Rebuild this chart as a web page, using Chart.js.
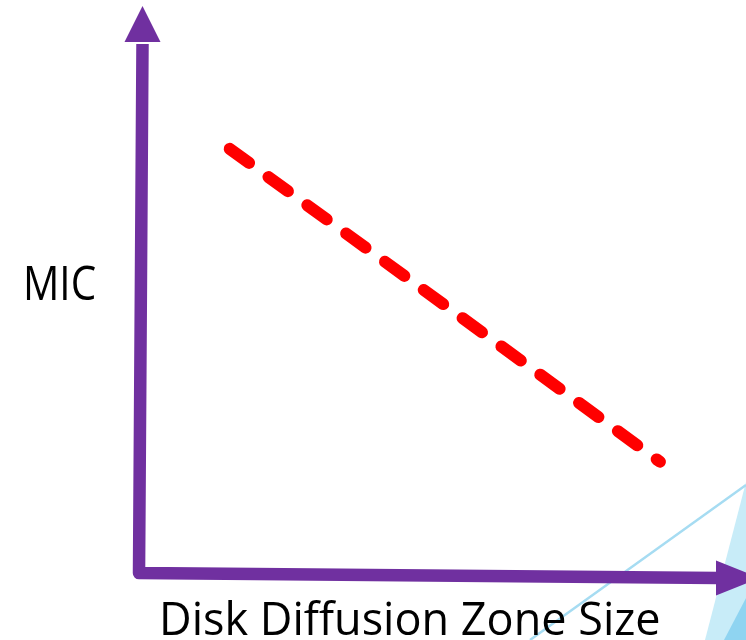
<!DOCTYPE html>
<html>
<head>
<meta charset="utf-8">
<script src="https://cdn.jsdelivr.net/npm/chart.js@4/dist/chart.umd.min.js"></script>
<style>
  html, body { margin: 0; padding: 0; background: #ffffff; }
  #wrap { width: 746px; height: 640px; position: relative; }
</style>
</head>
<body>
<div id="wrap"><canvas id="c" width="746" height="640"></canvas></div>
<script>
// Trend: larger inhibition zone -> lower MIC
const zoneSize = [1.48, 8.58];
const micValue = [7.49, 1.99];
const xTitle = 'Disk Diffusion Zone Size';
const yTitle = 'MIC';
const axisRange = { min: 0, max: 10 };

const AXIS_COLOR = '#7030a0';
const FONT = '"Open Sans", "Noto Sans", sans-serif';

// Light blue slide decoration in the lower right corner
const backdrop = {
  id: 'backdrop',
  beforeDraw(chart) {
    const ctx = chart.ctx;
    const W = chart.width, H = chart.height;
    ctx.save();
    ctx.fillStyle = '#ffffff';
    ctx.fillRect(0, 0, W, H);
    ctx.fillStyle = '#c8ecf8';
    ctx.beginPath();
    ctx.moveTo(W, 482);
    ctx.lineTo(705, H);
    ctx.lineTo(W, H);
    ctx.closePath();
    ctx.fill();
    ctx.fillStyle = '#8fd4f1';
    ctx.beginPath();
    ctx.moveTo(W, 598);
    ctx.lineTo(724, H);
    ctx.lineTo(W, H);
    ctx.closePath();
    ctx.fill();
    ctx.strokeStyle = '#a6dcf2';
    ctx.lineWidth = 2.5;
    ctx.beginPath();
    ctx.moveTo(530, H);
    ctx.lineTo(W, 485);
    ctx.stroke();
    ctx.restore();
  }
};

// Arrowed axes and their titles
const arrowAxes = {
  id: 'arrowAxes',
  afterDraw(chart) {
    const ctx = chart.ctx;
    const xs = chart.scales.x, ys = chart.scales.y;
    const ox = xs.getPixelForValue(axisRange.min);
    const oy = ys.getPixelForValue(axisRange.min);
    const xEnd = xs.getPixelForValue(axisRange.max);
    const yEnd = ys.getPixelForValue(axisRange.max);

    ctx.save();
    ctx.strokeStyle = AXIS_COLOR;
    ctx.fillStyle = AXIS_COLOR;
    ctx.lineWidth = 12.5;
    ctx.lineJoin = 'round';
    ctx.lineCap = 'butt';
    // shafts
    ctx.beginPath();
    ctx.moveTo(ox + 2.5, yEnd + 38);
    ctx.lineTo(ox - 1, oy - 2);
    ctx.lineTo(xEnd - 28, oy + 3);
    ctx.stroke();
    // vertical arrow head
    ctx.beginPath();
    ctx.moveTo(ox + 2.5, yEnd);
    ctx.lineTo(ox + 20.5, yEnd + 36);
    ctx.lineTo(ox - 15.5, yEnd + 36);
    ctx.closePath();
    ctx.fill();
    // horizontal arrow head
    ctx.beginPath();
    ctx.moveTo(xEnd + 14, oy + 3);
    ctx.lineTo(xEnd - 30, oy - 14.5);
    ctx.lineTo(xEnd - 30, oy + 20.5);
    ctx.closePath();
    ctx.fill();

    // titles
    ctx.fillStyle = '#000000';
    ctx.textBaseline = 'alphabetic';
    ctx.textAlign = 'left';
    ctx.font = '45px ' + FONT;
    ctx.fillText(xTitle, 159, 635);
    // y title: slightly condensed face
    ctx.save();
    ctx.translate(23, 300);
    ctx.scale(0.86, 1);
    ctx.font = '47px ' + FONT;
    ctx.fillText(yTitle, 0, 0);
    ctx.restore();
    ctx.restore();
  }
};

new Chart(document.getElementById('c'), {
  type: 'line',
  data: {
    datasets: [{
      data: zoneSize.map((x, i) => ({ x: x, y: micValue[i] })),
      borderColor: '#ff0000',
      borderWidth: 12,
      borderDash: [24, 24],
      borderCapStyle: 'round',
      pointRadius: 0,
      tension: 0,
      fill: false
    }]
  },
  options: {
    responsive: false,
    animation: false,
    devicePixelRatio: 1,
    layout: { padding: { left: 140, top: 6, right: 0, bottom: 65 } },
    plugins: { legend: { display: false }, tooltip: { enabled: false } },
    scales: {
      x: { type: 'linear', min: axisRange.min, max: axisRange.max, display: false },
      y: { type: 'linear', min: axisRange.min, max: axisRange.max, display: false }
    }
  },
  plugins: [backdrop, arrowAxes]
});
</script>
</body>
</html>
